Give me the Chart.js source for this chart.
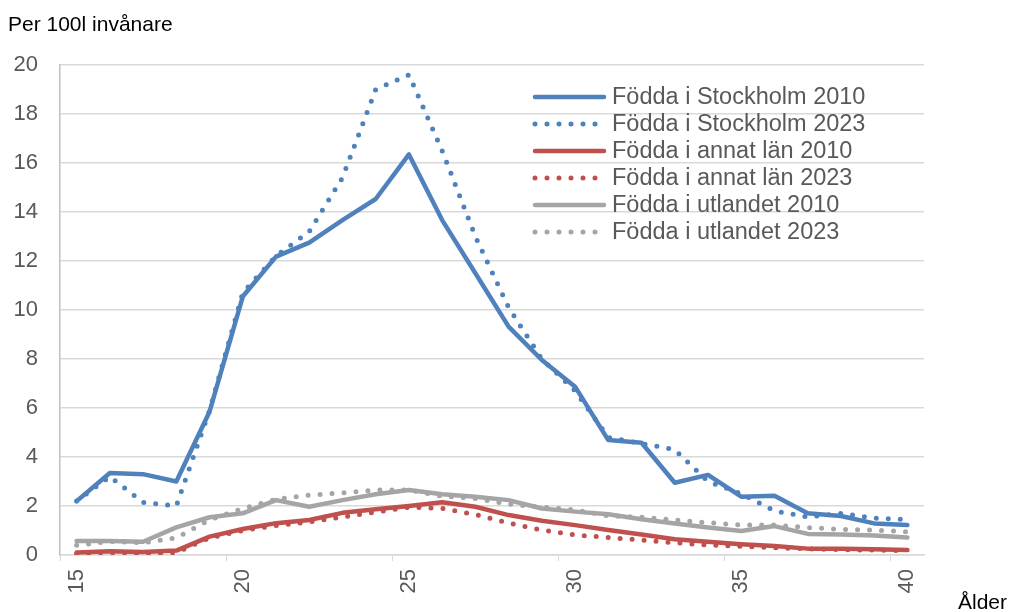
<!DOCTYPE html>
<html>
  <head>
    <title>Födda per 100 invånare</title>
    <meta charset="utf-8" />
    <script src="https://cdn.jsdelivr.net/npm/chart.js"></script>
    <style>
      html, body { margin: 0; padding: 0; background: #fff; }
      .canvas-container { position: relative; width: 1009px; height: 612px; }
    </style>
  </head>
  <body>
    <div class="canvas-container">
      <canvas id="fodda"></canvas>
    </div>
    <script>
      // ålder 15-40
      const ages = ['15','16','17','18','19','20','21','22','23','24','25','26','27','28','29','30','31','32','33','34','35','36','37','38','39','40'];
      const stockholm2010 = [2.2, 3.35, 3.3, 3.0, 5.85, 10.55, 12.18, 12.75, 13.67, 14.53, 16.35, 13.67, 11.5, 9.32, 7.96, 6.87, 4.69, 4.58, 2.95, 3.27, 2.38, 2.42, 1.7, 1.59, 1.29, 1.22];
      const stockholm2023 = [2.2, 3.2, 2.15, 2.0, 5.9, 10.7, 12.2, 13.2, 15.4, 19.0, 19.6, 16.5, 13.0, 10.1, 8.0, 6.7, 4.8, 4.55, 4.3, 3.0, 2.5, 1.8, 1.55, 1.7, 1.5, 1.45];
      const annatLan2010 = [0.1, 0.15, 0.12, 0.18, 0.75, 1.06, 1.3, 1.43, 1.72, 1.87, 2.0, 2.15, 1.97, 1.63, 1.4, 1.22, 1.02, 0.84, 0.64, 0.54, 0.44, 0.37, 0.26, 0.26, 0.23, 0.2];
      const annatLan2023 = [0.05, 0.1, 0.05, 0.1, 0.7, 1.0, 1.2, 1.35, 1.55, 1.75, 1.95, 1.9, 1.65, 1.3, 1.02, 0.82, 0.71, 0.61, 0.5, 0.41, 0.35, 0.3, 0.25, 0.22, 0.2, 0.18];
      const utlandet2010 = [0.57, 0.57, 0.54, 1.13, 1.54, 1.7, 2.24, 1.97, 2.24, 2.48, 2.65, 2.48, 2.38, 2.24, 1.9, 1.77, 1.66, 1.46, 1.29, 1.12, 0.98, 1.18, 0.86, 0.84, 0.8, 0.71];
      const utlandet2023 = [0.4, 0.55, 0.5, 0.7, 1.43, 1.9, 2.27, 2.44, 2.54, 2.65, 2.65, 2.4, 2.31, 2.08, 1.95, 1.84, 1.6, 1.54, 1.43, 1.32, 1.22, 1.22, 1.12, 1.05, 1.02, 0.95];

      const FONT = 'Liberation Sans, Arial, sans-serif';
      const BLUE = '#4f81bd', RED = '#c0504d', GRAY = '#a5a5a5';

      function solid(label, data, color) {
        return { label: label, data: data, borderColor: color, backgroundColor: color,
          borderWidth: 4.5, borderCapStyle: 'round', borderJoinStyle: 'round', pointRadius: 0, tension: 0 };
      }
      function dotted(label, data, color) {
        return { label: label, data: data, borderColor: color, backgroundColor: color,
          borderWidth: 5, borderDash: [0, 12], borderCapStyle: 'round', pointRadius: 0, tension: 0 };
      }

      // texter utanför diagrammet + legend inne i ritytan
      const extras = {
        id: 'extras',
        afterDatasetsDraw(chart) {
          const ctx = chart.ctx;
          ctx.save();
          ctx.fillStyle = '#000';
          ctx.font = '21px ' + FONT;
          ctx.textBaseline = 'alphabetic';
          ctx.textAlign = 'left';
          ctx.fillText('Per 100l invånare', 8, 31);
          ctx.fillText('Ålder', 958, 609);

          // legend
          ctx.font = '23.5px ' + FONT;
          ctx.textBaseline = 'middle';
          chart.data.datasets.forEach(function (ds, i) {
            const y = 97 + i * 27;
            ctx.strokeStyle = ds.borderColor;
            ctx.lineWidth = ds.borderWidth;
            ctx.lineCap = 'round';
            ctx.setLineDash(ds.borderDash || []);
            ctx.beginPath();
            ctx.moveTo(535, y);
            ctx.lineTo(604, y);
            ctx.stroke();
            ctx.setLineDash([]);
            ctx.fillStyle = '#595959';
            ctx.fillText(ds.label, 612, y + 1);
          });
          ctx.restore();
        }
      };

      const ctx = document.getElementById('fodda').getContext('2d');
      const chart = new Chart(ctx, {
        type: 'line',
        data: {
          labels: ages,
          datasets: [
            solid('Födda i Stockholm 2010', stockholm2010, BLUE),
            dotted('Födda i Stockholm 2023', stockholm2023, BLUE),
            solid('Födda i annat län 2010', annatLan2010, RED),
            dotted('Födda i annat län 2023', annatLan2023, RED),
            solid('Födda i utlandet 2010', utlandet2010, GRAY),
            dotted('Födda i utlandet 2023', utlandet2023, GRAY)
          ]
        },
        options: {
          responsive: true,
          maintainAspectRatio: false,
          animation: false,
          layout: { padding: { top: 65, left: 0, right: 85, bottom: 0 } },
          plugins: { legend: { display: false }, tooltip: { enabled: false } },
          scales: {
            x: {
              type: 'category',
              offset: true,
              afterFit: function (s) { s.height = 57; },
              grid: {
                offset: true,
                drawOnChartArea: false,
                drawTicks: true,
                tickLength: 6,
                color: function (c) { return c.index % 5 === 0 ? '#d9d9d9' : 'rgba(0,0,0,0)'; }
              },
              border: { color: '#d9d9d9', width: 1.5 },
              ticks: {
                autoSkip: false,
                maxRotation: 90,
                minRotation: 90,
                padding: 8,
                color: '#595959',
                font: { family: FONT, size: 22 },
                callback: function (v, i) { return i % 5 === 0 ? ages[i] : ''; }
              }
            },
            y: {
              min: 0,
              max: 20,
              afterFit: function (s) { s.width = 60; },
              ticks: {
                stepSize: 2,
                padding: 22,
                color: '#595959',
                font: { family: FONT, size: 22 }
              },
              grid: { color: '#d9d9d9', lineWidth: 1.5, drawTicks: false },
              border: { color: '#bfbfbf', width: 1.5 }
            }
          }
        },
        plugins: [extras]
      });
    </script>
  </body>
</html>
